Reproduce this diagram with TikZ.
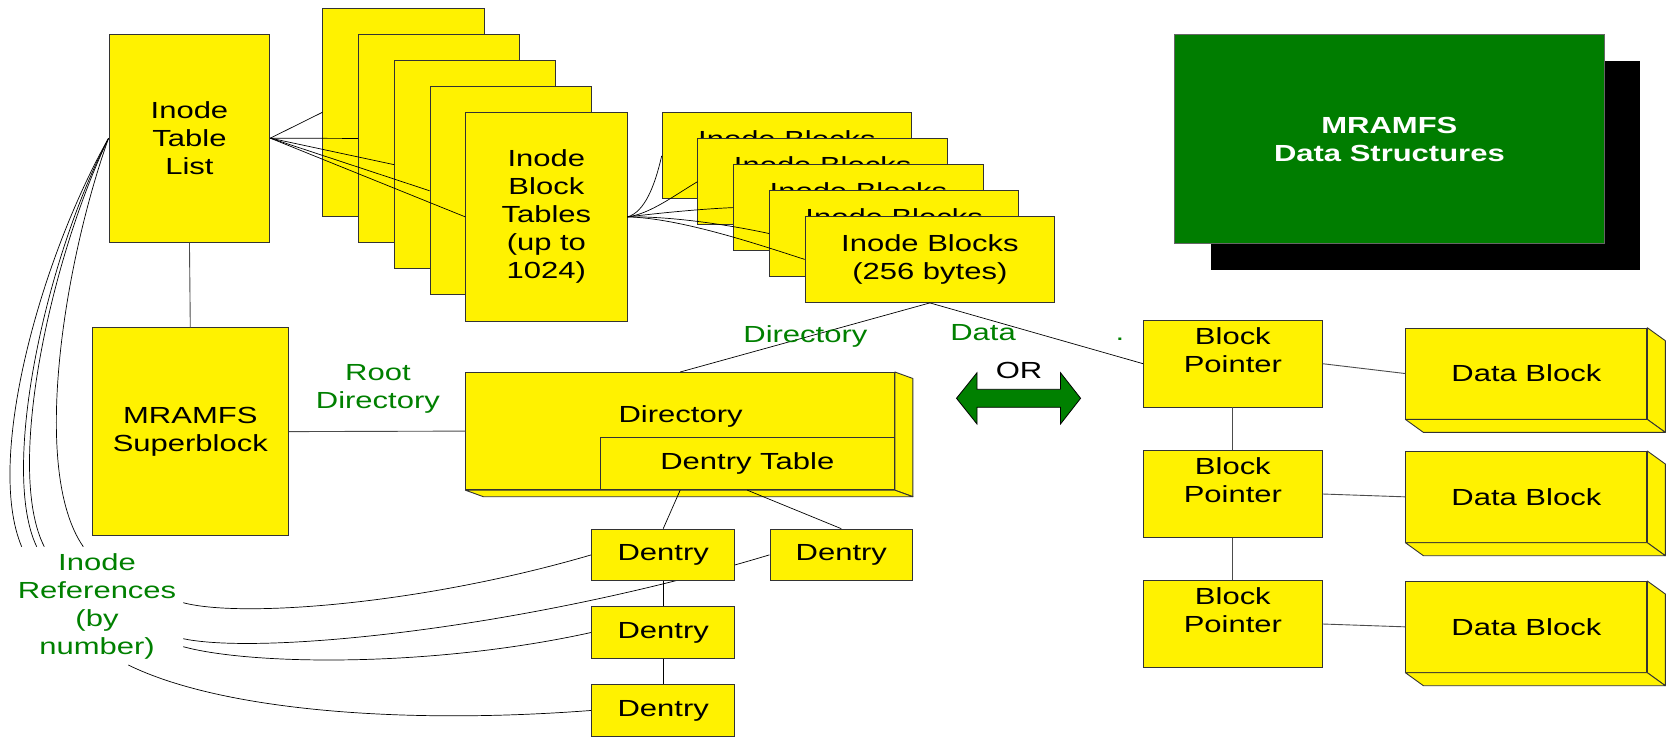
\documentclass[tikz,border=0pt]{standalone}
\usepackage{fontspec}
\setmainfont[FakeStretch=1.33]{Liberation Sans}
\usetikzlibrary{calc,shadows}
\definecolor{ygreen}{RGB}{0,128,0}
\definecolor{tgreen}{RGB}{0,125,0}
\newcommand\dfont{\fontsize{23.3}{28}\selectfont}
\newcommand\mydepthfaces[3]{%
  \filldraw[face] (#1.north east) -- ++(#2,#3) -- ($(#1.south east)+(#2,#3)$) -- (#1.south east) -- cycle;
  \filldraw[face] (#1.south west) -- ++(#2,#3) -- ($(#1.south east)+(#2,#3)$) -- (#1.south east) -- cycle;
}
\tikzset{
  every node/.style={font=\dfont},
  ybox/.style={draw=black!80, fill=yellow, line width=0.9pt, inner sep=0pt, align=center, anchor=north west},
  face/.style={draw=black!80, fill=yellow, line width=0.9pt, line join=round},
  conn/.style={draw=black, line width=0.7pt},
  gconn/.style={draw=black!70, line width=0.9pt},
  glabel/.style={text=ygreen, align=center, inner sep=0pt},
}
\begin{document}
\begin{tikzpicture}[x=1pt,y=-1pt]
\fill[white] (0,0) rectangle (1668,737);
\useasboundingbox (0,0) rectangle (1668,737);

% free ends of the inode reference curves
\coordinate (ira) at (21.7,546.7);
\coordinate (irb) at (36.7,546.7);
\coordinate (irc) at (44.3,546.7);
\coordinate (ird) at (83.3,546.7);
\coordinate (rra) at (183.3,602.7);
\coordinate (rrb) at (183.3,638.7);
\coordinate (rrc) at (183.3,646.7);
\coordinate (rrd) at (128.3,665);

% Inode Table List
\node[ybox, minimum width=160.8pt, minimum height=208pt] (itl) at (108.6,33.7) {Inode\\Table\\List};

% left inode reference curves
\draw[conn] (itl.west) .. controls (40,260) and (-15,460) .. (ira);
\draw[conn] (itl.west) .. controls (45,260) and (0,470) .. (irb);
\draw[conn] (itl.west) .. controls (50,260) and (5,470) .. (irc);
\draw[conn] (itl.west) .. controls (65,260) and (30,470) .. (ird);

% Dentries (positions)
\coordinate (d1pos) at (591.3,528.7);
% right inode reference curves (drawn below the dentry boxes)
\path (591.3,528.7) node[ybox, minimum width=142.9pt, minimum height=51.4pt] (d1) {};
\path (769.5,528.7) node[ybox, minimum width=142.8pt, minimum height=51.4pt] (d2) {};
\path (591.3,606.3) node[ybox, minimum width=142.9pt, minimum height=51.4pt] (d3) {};
\path (591.3,684.3) node[ybox, minimum width=142.9pt, minimum height=51.4pt] (d4) {};
\draw[conn] (rra) .. controls (240,618) and (420,605) .. (d1.west);
\draw[conn] (rrb) .. controls (260,655) and (520,630) .. (d2.west);
\draw[conn] (rrc) .. controls (250,665) and (430,668) .. (d3.west);
\draw[conn] (rrd) .. controls (220,710) and (400,725) .. (d4.west);
\node[ybox, minimum width=142.9pt, minimum height=51.4pt] at (d1.north west) {Dentry};
\node[ybox, minimum width=142.8pt, minimum height=51.4pt] at (d2.north west) {Dentry};
\node[ybox, minimum width=142.9pt, minimum height=51.4pt] at (d3.north west) {Dentry};
\node[ybox, minimum width=142.9pt, minimum height=51.4pt] at (d4.north west) {Dentry};

% Inode Block Tables stack
\foreach \i in {0,...,4} {
  \node[ybox, minimum width=161.2pt, minimum height=208.3pt] (ibt\i) at ({322.4+35.73*\i},{7.7+26.15*\i}) {Inode\\Block\\Tables\\(up to\\1024)};
}
\foreach \i in {0,...,4} {
  \draw[conn] (itl.east) -- (ibt\i.west);
}

% Inode Blocks stack
\foreach \i in {0,...,4} {
  \node[ybox, minimum width=249.5pt, minimum height=86.1pt] (ib\i) at ({661.7+35.75*\i},{112.3+25.9*\i}) {Inode Blocks\\(256 bytes)};
}
\draw[conn] (ibt4.east) .. controls (645,212) and (655,185) .. (ib0.west);
\draw[conn] (ibt4.east) .. controls (650,214) and (675,195) .. (ib1.west);
\draw[conn] (ibt4.east) .. controls (660,213) and (700,209) .. (ib2.west);
\draw[conn] (ibt4.east) .. controls (670,216) and (730,225) .. (ib3.west);
\draw[conn] (ibt4.east) .. controls (680,218) and (760,245) .. (ib4.west);

% Superblock
\node[ybox, minimum width=196.1pt, minimum height=207.7pt] (sb) at (91.8,327.3) {MRAMFS\\Superblock};
\draw[gconn] (itl.south) -- (sb.north);

% Directory
\node[ybox, minimum width=428.6pt, minimum height=117.3pt] (dir) at (465.4,372) {};
\mydepthfaces{dir}{18}{6.5}
\node[ybox, minimum width=294.2pt, minimum height=52pt] (dtab) at (599.8,437.3) {Dentry Table};
\node[inner sep=0pt] (dirtext) at (680.6,416.7) {Directory};
\draw[gconn] (sb.east) -- (dir.west);
\node[glabel] (rootlbl) at (377.9,388.7) {Root\\Directory};

\draw[conn] (dir.south) -- (d1.north);
\draw[conn] (dtab.south) -- (d2.north);
\draw[conn] (d1.south) -- (d3.north);
\draw[conn] (d3.south) -- (d4.north);

% Block pointers and data blocks
\foreach \i/\y in {1/320,2/450.3,3/580.3} {
  \node[ybox, minimum width=178.6pt, minimum height=86.5pt] (bp\i) at (1143.1,\y) {Block\\Pointer\\\mbox{}};
}
\foreach \i/\y in {1/327.7,2/451,3/581} {
  \node[ybox, minimum width=241pt, minimum height=90.8pt] (db\i) at (1405.4,\y) {Data Block};
  \mydepthfaces{db\i}{18}{13}
}
\draw[gconn] (bp1.south) -- (bp2.north);
\draw[gconn] (bp2.south) -- (bp3.north);
\foreach \i in {1,2,3} {
  \draw[gconn] (bp\i.east) -- (db\i.west);
}

% links from the inode block
\draw[conn] (ib4.south) -- (dir.north);
\draw[conn] (ib4.south) -- (bp1.west);
\node[glabel] (dirlbl) at (805.4,336.7) {Directory};
\node[glabel] (datalbl) at (983,332.3) {Data};
\node[glabel, anchor=base] (dotlbl) at (1120,340) {.};

% OR arrow
\filldraw[fill=ygreen, draw=black, line width=0.8pt, line join=miter]
  (956.5,398.3) -- (977,372.7) -- (977,389.3) -- (1060.5,389.3) -- (1060.5,372.7)
  -- (1080.6,398.3) -- (1060.5,424) -- (1060.5,407.3) -- (977,407.3) -- (977,424) -- cycle;
\node[inner sep=0pt] (orlbl) at (1019,370) {OR};

% Inode references label
\node[glabel] (irlbl) at (97,606) {Inode\\References\\(by\\number)};

% Title
\node[draw=black!60, fill=tgreen, line width=0.8pt, anchor=north west, inner sep=0pt,
      minimum width=429.4pt, minimum height=208.7pt,
      general shadow={fill=black, shadow xshift=36pt, shadow yshift=-26.3pt},
      text=white, align=center, font=\dfont\bfseries] (title) at (1174.3,34.3) {MRAMFS\\Data Structures};
\end{tikzpicture}
\end{document}
